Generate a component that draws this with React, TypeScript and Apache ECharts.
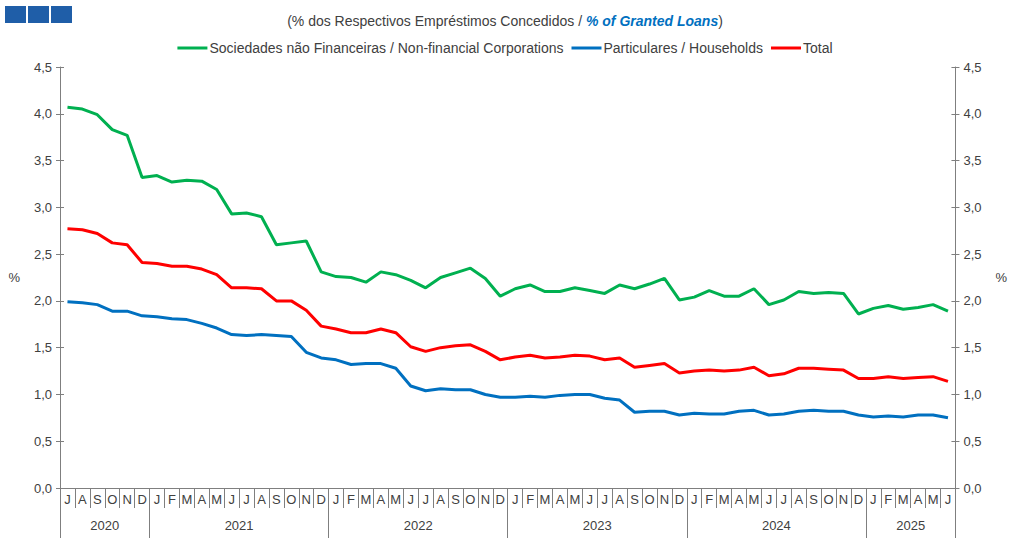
import React, { useEffect, useRef } from "react";
import * as echarts from "echarts";

const monthLetters = ["J", "F", "M", "A", "M", "J", "J", "A", "S", "O", "N", "D"];
const startYear = 2020;
const startMonth = 6; // July (0-based)
const years = ["2020", "2021", "2022", "2023", "2024", "2025"];

const corporations = [
  4.07, 4.05, 3.99, 3.83, 3.77, 3.32,
  3.34, 3.27, 3.29, 3.28, 3.19, 2.93, 2.94, 2.90, 2.60, 2.62, 2.64, 2.31,
  2.26, 2.25, 2.20, 2.31, 2.28, 2.22, 2.14, 2.25, 2.30, 2.35, 2.24, 2.05,
  2.13, 2.17, 2.10, 2.10, 2.14, 2.11, 2.08, 2.17, 2.13, 2.18, 2.24, 2.01,
  2.04, 2.11, 2.05, 2.05, 2.13, 1.96, 2.01, 2.10, 2.08, 2.09, 2.08, 1.86,
  1.92, 1.95, 1.91, 1.93, 1.96, 1.89,
];
const households = [
  1.99, 1.98, 1.96, 1.89, 1.89, 1.84,
  1.83, 1.81, 1.80, 1.76, 1.71, 1.64, 1.63, 1.64, 1.63, 1.62, 1.45, 1.39,
  1.37, 1.32, 1.33, 1.33, 1.28, 1.09, 1.04, 1.06, 1.05, 1.05, 1.00, 0.97,
  0.97, 0.98, 0.97, 0.99, 1.00, 1.00, 0.96, 0.94, 0.81, 0.82, 0.82, 0.78,
  0.80, 0.79, 0.79, 0.82, 0.83, 0.78, 0.79, 0.82, 0.83, 0.82, 0.82, 0.78,
  0.76, 0.77, 0.76, 0.78, 0.78, 0.75,
];
const total = [
  2.77, 2.76, 2.72, 2.62, 2.60, 2.41,
  2.40, 2.37, 2.37, 2.34, 2.28, 2.14, 2.14, 2.13, 2.00, 2.00, 1.90, 1.73,
  1.70, 1.66, 1.66, 1.70, 1.66, 1.51, 1.46, 1.50, 1.52, 1.53, 1.46, 1.37,
  1.40, 1.42, 1.39, 1.40, 1.42, 1.41, 1.37, 1.39, 1.29, 1.31, 1.33, 1.23,
  1.25, 1.26, 1.25, 1.26, 1.29, 1.20, 1.22, 1.28, 1.28, 1.27, 1.26, 1.17,
  1.17, 1.19, 1.17, 1.18, 1.19, 1.14,
];

const seriesNames = [
  "Sociedades não Financeiras / Non-financial Corporations",
  "Particulares / Households",
  "Total",
];
const colors = ["#00b050", "#0070c0", "#ff0000"];

export default function App() {
  const ref = useRef<HTMLDivElement>(null);
  useEffect(() => {
    if (!ref.current) return;
    const chart = echarts.init(ref.current, null, { renderer: "svg" });
    const n = corporations.length;
    const monthCats: string[] = [];
    const yearOfIdx: number[] = [];
    for (let i = 0; i < n; i++) {
      const m = (startMonth + i) % 12;
      const y = startYear + Math.floor((startMonth + i) / 12);
      monthCats.push(monthLetters[m] + "_" + i);
      yearOfIdx.push(y);
    }
    const boundaries: number[] = [0];
    for (let i = 1; i < n; i++) if (yearOfIdx[i] !== yearOfIdx[i - 1]) boundaries.push(i);
    boundaries.push(n);
    const yearSlots: string[] = new Array(n + 1).fill("");
    for (let b = 0; b < boundaries.length - 1; b++) {
      const center = (boundaries[b] + boundaries[b + 1]) / 2;
      yearSlots[Math.round(center)] = years[b];
    }
    const fmt = (v: number) => v.toFixed(1).replace(".", ",");
    const axisColor = "#7f7f7f";
    const textColor = "#404040";
    const yBase = {
      type: "value" as const,
      min: 0,
      max: 4.5,
      interval: 0.5,
      splitLine: { show: false },
    };
    chart.setOption({
      animation: false,
      textStyle: { fontFamily: "Liberation Sans, Arial, sans-serif" },
      title: {
        text: "{a|(% dos Respectivos Empréstimos Concedidos / }{b|% of Granted Loans}{a|)}",
        left: "center",
        top: 9,
        textStyle: {
          fontWeight: "normal",
          rich: {
            a: { fontSize: 14, color: "#404040", fontWeight: "normal", fontFamily: "Liberation Sans" },
            b: {
              fontSize: 14,
              color: "#0070c0",
              fontStyle: "italic",
              fontWeight: "bold",
              fontFamily: "Liberation Sans",
            },
          },
        },
      },
      legend: {
        top: 36,
        left: "center",
        icon: "rect",
        itemWidth: 30,
        itemHeight: 3,
        itemGap: 8,
        textStyle: { fontSize: 14, color: "#404040", fontFamily: "Liberation Sans", padding: [0, 0, 0, -3] },
        data: seriesNames,
      },
      graphic: [
        { type: "rect", left: 5, top: 6, shape: { width: 21, height: 17 }, style: { fill: "#1f5ea8" } },
        { type: "rect", left: 28, top: 6, shape: { width: 21, height: 17 }, style: { fill: "#1f5ea8" } },
        { type: "rect", left: 51, top: 6, shape: { width: 21, height: 17 }, style: { fill: "#1f5ea8" } },
      ],
      grid: { left: 60, right: 47, top: 67, bottom: 50 },
      xAxis: [
        {
          type: "category",
          data: monthCats,
          boundaryGap: true,
          position: "bottom",
          axisLine: { lineStyle: { color: axisColor, width: 1 } },
          axisTick: { show: true, interval: 0, length: 20, lineStyle: { color: axisColor } },
          axisLabel: {
            interval: 0,
            margin: 5,
            fontSize: 13,
            color: textColor,
            formatter: (v: string) => v.split("_")[0],
          },
        },
        {
          type: "category",
          data: yearSlots.map((s, i) => (s ? s : " ".repeat(i % 5 + 1))),
          boundaryGap: false,
          position: "bottom",
          axisLine: { show: false },
          axisTick: {
            show: true,
            length: 52,
            interval: (i: number) => boundaries.includes(i),
            lineStyle: { color: axisColor },
          },
          axisLabel: { interval: 0, margin: 31, fontSize: 13, color: textColor },
        },
      ],
      yAxis: [
        {
          ...yBase,
          position: "left",
          name: "%",
          nameLocation: "middle",
          nameRotate: 0,
          nameGap: 40,
          nameTextStyle: { fontSize: 13, color: textColor },
          axisLine: { show: true, lineStyle: { color: axisColor } },
          axisTick: { show: true, length: 4, lineStyle: { color: axisColor } },
          axisLabel: { fontSize: 13, color: textColor, margin: 8, formatter: fmt },
        },
        {
          ...yBase,
          position: "right",
          name: "%",
          nameLocation: "middle",
          nameRotate: 0,
          nameGap: 40,
          nameTextStyle: { fontSize: 13, color: textColor },
          axisLine: { show: true, lineStyle: { color: axisColor } },
          axisTick: { show: true, length: 4, lineStyle: { color: axisColor } },
          axisLabel: { fontSize: 13, color: textColor, margin: 8, formatter: fmt },
        },
        {
          ...yBase,
          position: "left",
          axisLine: { show: false },
          axisTick: { show: true, inside: true, length: 4, lineStyle: { color: axisColor } },
          axisLabel: { show: false },
        },
        {
          ...yBase,
          position: "right",
          axisLine: { show: false },
          axisTick: { show: true, inside: true, length: 4, lineStyle: { color: axisColor } },
          axisLabel: { show: false },
        },
      ],
      series: [corporations, households, total].map((d, k) => ({
        name: seriesNames[k],
        type: "line",
        xAxisIndex: 0,
        yAxisIndex: 0,
        data: d,
        showSymbol: false,
        symbol: "none",
        lineStyle: { width: 3, color: colors[k] },
        itemStyle: { color: colors[k] },
      })),
    });
    return () => chart.dispose();
  }, []);
  return (
    <div
      ref={ref}
      style={{ position: "fixed", left: 0, top: 0, width: 1010, height: 538, background: "#fff" }}
    />
  );
}
